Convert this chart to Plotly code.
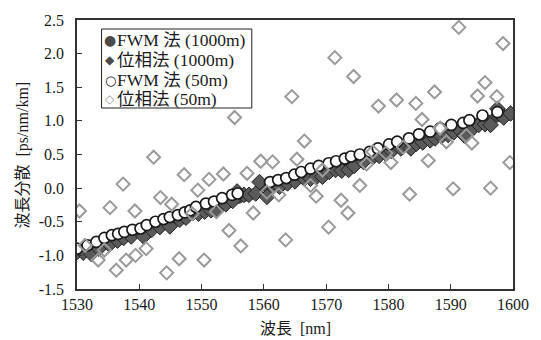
import plotly.graph_objects as go

# ---------------- data ----------------
fwm1000_x = [1530, 1531, 1532, 1533, 1534, 1535, 1536, 1537, 1538, 1539,
             1540, 1541, 1542, 1543, 1544, 1545, 1546, 1547, 1548, 1549,
             1550, 1551, 1552, 1553, 1554, 1555, 1556, 1557, 1558, 1559,
             1560, 1561, 1562, 1563, 1564, 1565, 1566, 1567, 1568, 1569,
             1570, 1571, 1572, 1573, 1574, 1575, 1576, 1577, 1578, 1579,
             1580, 1581, 1582, 1583, 1584, 1585, 1586, 1587, 1588, 1589,
             1590, 1591, 1592, 1593, 1594, 1595, 1596, 1597, 1598, 1599, 1600]
fwm1000_y = [-0.93, -0.90, -0.87, -0.84, -0.81, -0.78, -0.75, -0.72, -0.69, -0.66,
             -0.63, -0.60, -0.57, -0.54, -0.51, -0.48, -0.45, -0.42, -0.39, -0.36,
             -0.33, -0.30, -0.27, -0.24, -0.21, -0.18, -0.15, -0.12, -0.09, -0.06,
             0.03, 0.06, 0.08, 0.11, 0.14, 0.16, 0.19, 0.22, 0.25, 0.27,
             0.30, 0.33, 0.36, 0.38, 0.41, 0.44, 0.47, 0.49, 0.52, 0.55,
             0.58, 0.61, 0.63, 0.66, 0.69, 0.72, 0.74, 0.77, 0.80, 0.82,
             0.85, 0.88, 0.90, 0.93, 0.96, 0.98, 1.01, 1.04, 1.06, 1.09, 1.12]

phase1000_x = [1530, 1531, 1532.3, 1533.5, 1535.2, 1536.5, 1537.5, 1538.7, 1540.7, 1542,
               1543.3, 1544.9, 1546.5, 1547.5, 1548.6, 1549.5, 1550.5, 1551.5, 1552.3, 1553.9,
               1555, 1555.7, 1556.8, 1557.6, 1558.7, 1559.3, 1560.5, 1561.5, 1562.5, 1563.8,
               1565, 1566.5, 1567.5, 1568.5, 1569.4, 1570.5, 1571.5, 1572.5, 1573.6, 1574.5,
               1576, 1577.5, 1578.5, 1579.6, 1580.5, 1582, 1583.6, 1584.5, 1585.5, 1586.7,
               1587.5, 1588.5, 1589.6, 1590.5, 1591.5, 1592.2, 1593.5, 1594.5, 1595.5, 1596.4,
               1597.5, 1598.5, 1599.6]
phase1000_y = [-0.95, -0.96, -0.98, -0.90, -0.84, -0.78, -0.74, -0.72, -0.72, -0.62,
               -0.58, -0.57, -0.47, -0.44, -0.37, -0.38, -0.35, -0.33, -0.33, -0.24,
               -0.19, -0.05, -0.10, -0.10, -0.08, 0.09, -0.13, 0.03, 0.02, 0.07,
               0.10, 0.14, 0.14, 0.17, 0.17, 0.24, 0.27, 0.26, 0.27, 0.33,
               0.39, 0.46, 0.48, 0.51, 0.55, 0.59, 0.59, 0.66, 0.68, 0.71,
               0.74, 0.77, 0.79, 0.83, 0.86, 0.78, 0.88, 0.94, 0.95, 0.94,
               1.18, 1.05, 1.11]

fwm50_x = [1530.0, 1531.7, 1533.1, 1534.4, 1535.6, 1536.6, 1537.6, 1538.9, 1540.2, 1541.2,
           1542.6, 1543.9, 1544.9, 1546.2, 1547.3, 1548.2, 1549.1, 1550.7, 1552.0, 1553.3,
           1554.9, 1555.8,
           1561.0, 1562.3, 1563.6, 1564.9, 1566.0, 1567.5, 1568.8, 1570.4, 1571.6, 1573.0,
           1574.0, 1575.4, 1577.0, 1578.3, 1580.1, 1581.4, 1583.3, 1584.9, 1586.7, 1588.3,
           1590.1, 1592.0, 1593.0, 1595.1, 1597.5]
fwm50_y = [-0.90, -0.85, -0.80, -0.74, -0.70, -0.68, -0.65, -0.62, -0.60, -0.55,
           -0.50, -0.46, -0.43, -0.40, -0.36, -0.33, -0.28, -0.23, -0.20, -0.15,
           -0.10, -0.08,
           0.09, 0.12, 0.15, 0.20, 0.24, 0.29, 0.33, 0.37, 0.40, 0.44,
           0.47, 0.50, 0.54, 0.59, 0.65, 0.69, 0.74, 0.80, 0.84, 0.89,
           0.94, 0.97, 1.01, 1.08, 1.13]

phase50_x = [1530.4, 1531.3, 1533.4, 1534.4, 1535.3, 1536.3, 1537.4, 1537.9, 1539.3, 1539.4,
             1541.1, 1542.3, 1543.4, 1544.4, 1545.2, 1546.4, 1547.2, 1548.5, 1549.4, 1550.4,
             1551.2, 1552.4, 1553.5, 1554.4, 1555.3, 1556.3, 1557.3, 1558.3, 1559.5, 1560.5,
             1561.4, 1562.4, 1563.5, 1564.5, 1565.3, 1566.5, 1567.5, 1568.4, 1569.4, 1570.4,
             1571.4, 1572.4, 1573.5, 1574.4, 1575.4, 1576.5, 1577.5, 1578.4, 1579.6, 1580.4,
             1581.3, 1582.4, 1583.4, 1584.4, 1585.4, 1586.4, 1587.4, 1588.3, 1589.3, 1590.4,
             1591.3, 1592.5, 1593.4, 1594.3, 1595.5, 1596.4, 1597.4, 1598.4, 1599.5]
phase50_y = [-0.34, -0.85, -1.07, -0.92, -0.29, -1.22, 0.06, -1.07, -0.34, -1.00,
             -0.90, 0.46, -0.14, -1.26, -0.24, -1.05, 0.20, -0.38, -0.03, -1.07,
             0.13, -0.35, 0.21, -0.63, 1.05, -0.86, 0.22, -0.37, 0.40, -0.06,
             0.39, -0.10, -0.77, 1.36, 0.43, 0.70, 0.04, -0.12, 0.27, -0.58,
             1.94, -0.18, -0.37, 1.66, 0.04, 0.36, 0.54, 1.22, 0.52, 0.38,
             1.31, 0.61, -0.09, 1.26, 1.02, 0.41, 1.43, 0.89, 0.69, -0.01,
             2.39, 0.78, 0.67, 1.37, 1.57, 0.00, 1.36, 2.15, 0.38]

series_names = ["FWM 法 (1000m)", "位相法 (1000m)", "FWM 法 (50m)", "位相法 (50m)"]

x_ticks = [1530, 1540, 1550, 1560, 1570, 1580, 1590, 1600]
y_ticks = [-1.5, -1.0, -0.5, 0.0, 0.5, 1.0, 1.5, 2.0, 2.5]
y_ticktext = ["-1.5", "-1.0", "-0.5", "0.0", "0.5", "1.0", "1.5", "2.0", "2.5"]

x_title = "波長\u00a0\u00a0[nm]"
y_title = "波長分散\u00a0\u00a0[ps/nm/km]"

# ---------------- figure ----------------
SERIF = "Liberation Serif, Times New Roman, Noto Sans CJK JP, serif"

fig = go.Figure()
fig.add_trace(go.Scatter(
    x=fwm1000_x, y=fwm1000_y, mode="markers", name=series_names[0],
    marker=dict(symbol="circle", size=10, color="#4a4a4a",
                line=dict(color="#333333", width=1))))
fig.add_trace(go.Scatter(
    x=phase1000_x, y=phase1000_y, mode="markers", name=series_names[1],
    marker=dict(symbol="diamond", size=12, color="#5a5a5a",
                line=dict(color="#222222", width=1))))
fig.add_trace(go.Scatter(
    x=fwm50_x, y=fwm50_y, mode="markers", name=series_names[2],
    marker=dict(symbol="circle", size=11, color="white",
                line=dict(color="#1a1a1a", width=1.7))))
fig.add_trace(go.Scatter(
    x=phase50_x, y=phase50_y, mode="markers", name=series_names[3],
    marker=dict(symbol="diamond-open", size=10, color="#9a9a9a",
                line=dict(color="#9a9a9a", width=2))))

L, R, T, B = 77, 20, 20, 51
W, H = 541, 340
pw = W - L - R
ph = H - T - B

def px_x(p):
    return (p - L) / pw

def px_y(p):
    return (H - B - p) / ph

# manual legend box
fig.add_shape(type="rect", xref="paper", yref="paper",
              x0=px_x(102), x1=px_x(255), y0=px_y(108), y1=px_y(29),
              line=dict(color="#222222", width=1), fillcolor="white", layer="above")

glyphs = ["●", "◆", "○", "◇"]
glyph_colors = ["#4a4a4a", "#4a4a4a", "#111111", "#9a9a9a"]
glyph_sizes = [14, 12, 13, 12]
row_y = [40, 60, 80, 99]
for i in range(4):
    fig.add_annotation(xref="paper", yref="paper", x=px_x(111), y=px_y(row_y[i]),
                       text=glyphs[i], showarrow=False, xanchor="center", yanchor="middle",
                       font=dict(family="DejaVu Sans", size=glyph_sizes[i], color=glyph_colors[i]))
    fig.add_annotation(xref="paper", yref="paper", x=px_x(116), y=px_y(row_y[i]),
                       text=series_names[i], showarrow=False, xanchor="left", yanchor="middle",
                       font=dict(family=SERIF, size=17.5, color="#1a1a1a"))

# axis titles
fig.add_annotation(xref="paper", yref="paper", x=px_x(22), y=0.5,
                   text=y_title, textangle=-90, showarrow=False,
                   xanchor="center", yanchor="middle",
                   font=dict(family=SERIF, size=16, color="#1a1a1a"))
fig.add_annotation(xref="paper", yref="paper", x=0.5, y=px_y(328),
                   text=x_title, showarrow=False, xanchor="center", yanchor="middle",
                   font=dict(family=SERIF, size=16, color="#1a1a1a"))

fig.update_layout(
    width=W, height=H,
    margin=dict(l=L, r=R, t=T, b=B, pad=0),
    paper_bgcolor="white", plot_bgcolor="white",
    showlegend=False,
    font=dict(family=SERIF, size=16, color="#1a1a1a"),
)
fig.update_xaxes(range=[1530, 1600], tickvals=x_ticks, ticks="inside", ticklen=5,
                 tickcolor="#333333", showgrid=False, zeroline=False,
                 showline=True, linecolor="#333333", linewidth=1.5, mirror=True,
                 tickfont=dict(family=SERIF, size=16, color="#1a1a1a"))
fig.update_yaxes(range=[-1.5, 2.5], tickvals=y_ticks, ticktext=y_ticktext,
                 ticks="inside", ticklen=5, tickcolor="#333333",
                 showgrid=False, zeroline=False,
                 showline=True, linecolor="#333333", linewidth=1.5, mirror=True,
                 ticklabelstandoff=8,
                 tickfont=dict(family=SERIF, size=16, color="#1a1a1a"))

fig.write_html("out.html",
               config={"displayModeBar": False},
               post_script="document.body.style.margin='0px';document.body.style.overflow='hidden';")
